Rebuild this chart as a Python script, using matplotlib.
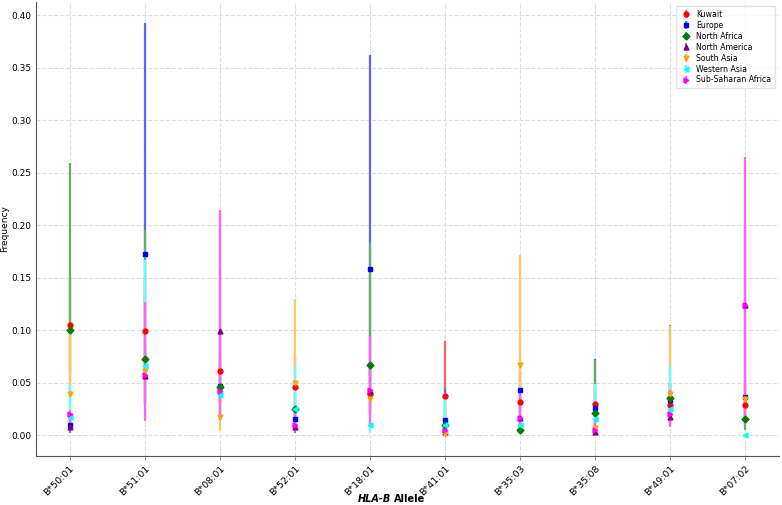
import numpy as np
import matplotlib
matplotlib.use('Agg')
import matplotlib.pyplot as plt
from matplotlib import colors

# alleles on the x axis
alleles = ['B*50:01', 'B*51:01', 'B*08:01', 'B*52:01', 'B*18:01',
           'B*41:01', 'B*35:03', 'B*35:08', 'B*49:01', 'B*07:02']

# frequency and confidence bounds per population
kuwait      = [0.105, 0.099, 0.061, 0.046, 0.039, 0.037, 0.031, 0.0295, 0.029, 0.029]
kuwait_lo   = [0.060, 0.060, 0.030, 0.025, 0.020, 0.012, 0.015, 0.015, 0.015, 0.010]
kuwait_hi   = [0.150, 0.150, 0.100, 0.075, 0.070, 0.0895, 0.060, 0.045, 0.050, 0.060]

europe      = [0.0095, 0.172, 0.047, 0.015, 0.158, 0.014, 0.0425, 0.026, 0.033, 0.0365]
europe_lo   = [0.005, 0.100, 0.030, 0.008, 0.050, 0.006, 0.030, 0.015, 0.020, 0.020]
europe_hi   = [0.020, 0.392, 0.070, 0.030, 0.362, 0.044, 0.060, 0.072, 0.050, 0.050]

n_africa    = [0.100, 0.072, 0.046, 0.025, 0.067, 0.010, 0.005, 0.021, 0.0356, 0.015]
n_africa_lo = [0.030, 0.030, 0.020, 0.010, 0.030, 0.002, 0.001, 0.008, 0.015, 0.005]
n_africa_hi = [0.259, 0.195, 0.080, 0.045, 0.183, 0.025, 0.020, 0.071, 0.105, 0.040]

n_america    = [0.008, 0.056, 0.099, 0.008, 0.042, 0.003, 0.0165, 0.003, 0.0175, 0.1235]
n_america_lo = [0.002, 0.030, 0.050, 0.002, 0.020, 0.000, 0.005, 0.000, 0.010, 0.060]
n_america_hi = [0.020, 0.090, 0.160, 0.020, 0.070, 0.010, 0.035, 0.010, 0.030, 0.200]

s_asia    = [0.039, 0.061, 0.017, 0.050, 0.034, 0.001, 0.067, 0.0064, 0.039, 0.034]
s_asia_lo = [0.020, 0.030, 0.005, 0.020, 0.015, 0.000, 0.020, 0.000, 0.020, 0.015]
s_asia_hi = [0.100, 0.100, 0.040, 0.130, 0.060, 0.008, 0.171, 0.020, 0.104, 0.060]

w_asia    = [0.017, 0.066, 0.038, 0.025, 0.010, 0.010, 0.010, 0.015, 0.0245, 0.000]
w_asia_lo = [0.005, 0.030, 0.020, 0.008, 0.002, 0.003, 0.002, 0.004, 0.010, 0.000]
w_asia_hi = [0.048, 0.167, 0.060, 0.0657, 0.030, 0.040, 0.030, 0.049, 0.0657, 0.000]

ss_africa    = [0.020, 0.057, 0.042, 0.010, 0.043, 0.005, 0.016, 0.005, 0.020, 0.124]
ss_africa_lo = [0.011, 0.013, 0.014, 0.004, 0.008, 0.000, 0.003, 0.000, 0.008, 0.010]
ss_africa_hi = [0.024, 0.127, 0.214, 0.022, 0.094, 0.012, 0.045, 0.015, 0.043, 0.265]

series = [
    ('Kuwait', kuwait, kuwait_lo, kuwait_hi, 'red', 'o'),
    ('Europe', europe, europe_lo, europe_hi, 'blue', 's'),
    ('North Africa', n_africa, n_africa_lo, n_africa_hi, 'green', 'D'),
    ('North America', n_america, n_america_lo, n_america_hi, 'purple', '^'),
    ('South Asia', s_asia, s_asia_lo, s_asia_hi, 'orange', 'v'),
    ('Western Asia', w_asia, w_asia_lo, w_asia_hi, 'cyan', '<'),
    ('Sub-Saharan Africa', ss_africa, ss_africa_lo, ss_africa_hi, 'magenta', '>'),
]

def lighten(c, a=0.62):
    # flat, opaque version of a colour drawn with alpha on white
    r, g, b = colors.to_rgb(c)
    return (1-a+a*r, 1-a+a*g, 1-a+a*b)

dpi = 100
fig = plt.figure(figsize=(782/dpi, 505/dpi), dpi=dpi)
ax = fig.add_axes([36/782, 1-455.7/505, (779-36)/782, 453.7/505])

x = np.arange(len(alleles))
for i, (name, val, lo, hi, c, m) in enumerate(series):
    val = np.array(val); lo = np.array(lo); hi = np.array(hi)
    yerr = [val-lo, hi-val]
    eb = ax.errorbar(x, val, yerr=yerr, fmt=m, color=c, ecolor=lighten(c),
                     elinewidth=1.6, markersize=3.5, capsize=0, label=name)
    eb[0].set_zorder(10 + i)
    for lc in eb[2]:
        lc.set_zorder(2 + i*0.1)

ax.set_xticks(x)
ax.set_xticklabels(alleles, rotation=45, ha='right', rotation_mode='anchor', fontsize=6.8)
ax.tick_params(axis='y', labelsize=6.5, length=0, pad=3)
ax.tick_params(axis='x', length=3, color='#999999', pad=3)
ax.set_xlim(-0.45, 9.45)
ax.set_ylim(-0.0197, 0.4124)
ax.set_yticks(np.arange(0, 0.41, 0.05))
ax.grid(True, linestyle='--', color='#dddddd', linewidth=0.8)
ax.set_axisbelow(True)
for s in ['top', 'right']:
    ax.spines[s].set_visible(False)
for s in ['left', 'bottom']:
    ax.spines[s].set_color('#555555')

ax.set_ylabel('Frequency', fontsize=6.5, labelpad=2)

fig.text(391/782, 1-499/505, 'HLA-B', ha='right', va='center', fontsize=7,
         style='italic', weight='bold')
fig.text(394/782, 1-499/505, 'Allele', ha='left', va='center', fontsize=7, weight='bold')

leg = ax.legend(loc='upper right', fontsize=5.6, frameon=True, borderpad=0.5,
                labelspacing=0.25, handlelength=1.5, handletextpad=0.6)
leg.get_frame().set_edgecolor('#dddddd')

plt.savefig('out.png', dpi=dpi)
